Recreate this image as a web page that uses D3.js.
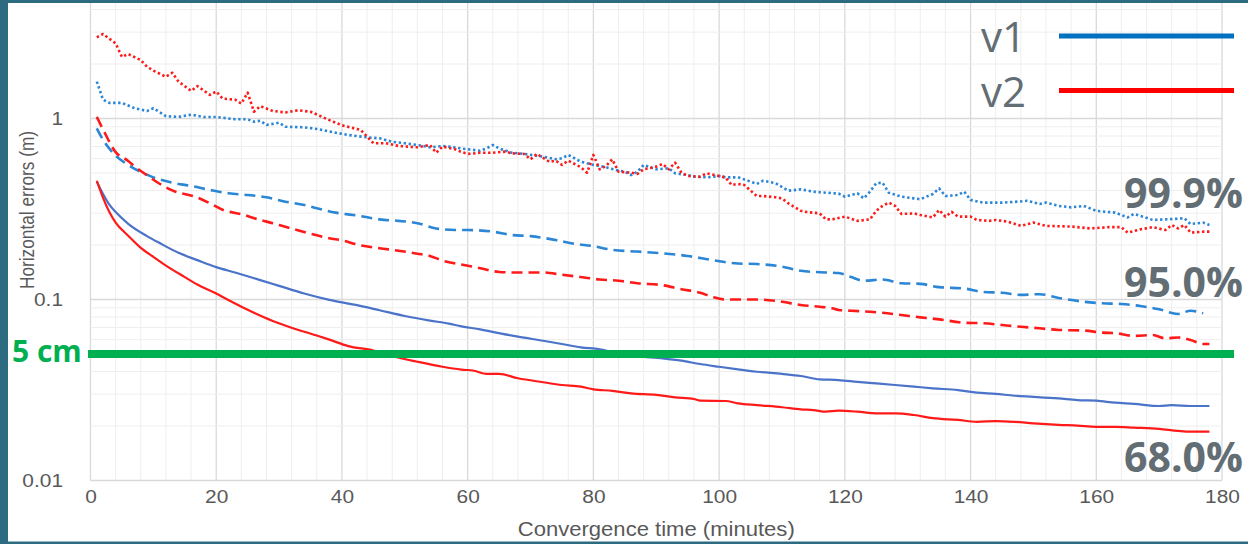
<!DOCTYPE html>
<html><head><meta charset="utf-8">
<script src="https://cdn.jsdelivr.net/npm/d3@7"></script>
<style>html,body{margin:0;padding:0;background:#2d6b80;}svg{display:block;}</style>
</head><body><svg id="c" width="1248" height="544"></svg>
<script>
// ---------- data (minutes, horizontal error in metres) ----------
const xTicks = [0,20,40,60,80,100,120,140,160,180];
const yTicks = [0.01,0.1,1];
const yTickLabels = ["0.01","0.1","1"];
const thresholdValue = 0.05; // 5 cm

// v1 99.9 % (dotted blue)
const v1_999_min = [1,2,3,5,7,9,10,12,14,16,18,20,23,25,26,27,28,30,31,34,36,39,41,44,46,48,50,53,54,56,57,59,60,62,63,64,65,67,69,72,74,75,76,77,78,80,81,82,84,85,86,87,88,89,90,92,93,95,96,98,100,101,103,104,106,107,109,111,113,115,117,119,120,122,123,124,125,126,127,129,131,132,134,135,136,138,139,140,142,145,147,149,151,152,154,156,158,160,163,165,166,169,171,174,175,177,178];
const v1_999_val = [1.60,1.27,1.22,1.22,1.14,1.10,1.14,1.03,1.02,1.05,1.02,1.02,0.99,0.99,0.96,0.972,0.921,0.948,0.901,0.894,0.875,0.835,0.811,0.787,0.777,0.744,0.730,0.705,0.693,0.705,0.699,0.683,0.676,0.664,0.684,0.714,0.684,0.647,0.637,0.615,0.595,0.603,0.629,0.603,0.577,0.554,0.546,0.538,0.515,0.508,0.487,0.508,0.554,0.538,0.524,0.531,0.498,0.487,0.477,0.473,0.481,0.473,0.473,0.461,0.435,0.453,0.439,0.399,0.406,0.394,0.389,0.385,0.370,0.386,0.362,0.394,0.439,0.442,0.389,0.370,0.362,0.358,0.383,0.411,0.373,0.378,0.394,0.355,0.343,0.343,0.346,0.351,0.337,0.343,0.329,0.323,0.329,0.309,0.302,0.284,0.297,0.275,0.277,0.281,0.261,0.266,0.258];

// v2 99.9 % (dotted red)
const v2_999_min = [1,2,4,5,6,8,9,10,12,13,14,16,17,19,20,21,23,24,25,26,27,29,31,33,35,38,40,43,45,47,49,52,54,55,56,58,59,60,62,64,66,67,69,70,71,73,74,75,76,78,79,80,81,82,83,84,86,87,88,90,91,92,93,94,95,97,98,100,101,102,103,104,106,107,109,110,111,113,114,116,117,118,120,122,124,125,126,127,128,129,131,132,134,135,136,137,138,140,141,143,144,146,148,150,152,156,159,162,164,165,167,169,171,172,173,174,175,177,178];
const v2_999_val = [2.81,2.93,2.60,2.19,2.27,2.10,1.93,1.84,1.70,1.79,1.60,1.42,1.51,1.35,1.41,1.29,1.27,1.21,1.39,1.09,1.17,1.10,1.08,1.11,1.09,0.98,0.917,0.864,0.730,0.730,0.705,0.693,0.714,0.647,0.699,0.676,0.653,0.637,0.647,0.647,0.656,0.642,0.637,0.595,0.637,0.577,0.585,0.554,0.585,0.538,0.502,0.629,0.524,0.546,0.595,0.508,0.502,0.494,0.524,0.542,0.561,0.524,0.570,0.502,0.481,0.477,0.498,0.481,0.473,0.429,0.435,0.429,0.373,0.373,0.367,0.362,0.340,0.309,0.304,0.299,0.277,0.277,0.287,0.272,0.277,0.309,0.329,0.343,0.329,0.297,0.299,0.293,0.284,0.312,0.287,0.305,0.287,0.287,0.275,0.272,0.275,0.269,0.255,0.266,0.255,0.253,0.247,0.251,0.251,0.234,0.244,0.251,0.242,0.258,0.247,0.258,0.234,0.237,0.237];

// v1 95 % (dashed blue)
const v1_95_min = [1,2,4,6,8,10,13,16,19,22,25,28,31,34,36,39,43,46,49,52,55,58,60,64,67,70,74,77,80,83,87,91,95,99,103,106,110,113,117,119,121,123,126,129,132,135,139,142,145,148,151,154,158,161,164,167,170,173,175,177];
const v1_95_val = [0.883,0.763,0.624,0.554,0.507,0.473,0.442,0.424,0.403,0.386,0.378,0.367,0.347,0.333,0.319,0.302,0.289,0.277,0.272,0.264,0.247,0.242,0.242,0.237,0.227,0.224,0.213,0.203,0.197,0.188,0.184,0.180,0.174,0.165,0.158,0.157,0.152,0.144,0.141,0.140,0.133,0.127,0.129,0.123,0.122,0.117,0.115,0.110,0.109,0.106,0.107,0.102,0.0972,0.0953,0.0944,0.0921,0.0883,0.0832,0.0867,0.0839];

// v2 95 % (dashed red)
const v2_95_min = [1,2,4,6,7,9,11,13,17,19,21,24,27,29,31,35,38,40,43,46,49,52,54,56,59,62,65,68,72,75,78,81,84,87,91,94,97,99,101,103,106,110,113,116,118,119,121,124,126,129,132,135,139,142,145,148,151,154,158,161,163,166,169,171,173,175,177,178];
const v2_95_val = [1.02,0.869,0.652,0.583,0.545,0.485,0.436,0.401,0.366,0.340,0.313,0.296,0.275,0.264,0.252,0.231,0.218,0.212,0.199,0.192,0.186,0.179,0.174,0.164,0.156,0.149,0.142,0.141,0.141,0.137,0.133,0.129,0.127,0.123,0.120,0.114,0.109,0.103,0.100,0.100,0.100,0.0972,0.0932,0.0912,0.0894,0.0875,0.0867,0.0856,0.0845,0.0821,0.0797,0.0777,0.0744,0.0739,0.0723,0.0707,0.0693,0.0679,0.0674,0.0656,0.0652,0.0629,0.0636,0.0610,0.0617,0.0597,0.0568,0.0568];

// v1 68 % (solid blue)
const v1_68_min = [1,2,3,4,6,9,11,14,17,20,23,27,30,34,38,42,46,50,54,57,59,62,65,68,72,75,78,81,84,87,91,94,97,100,103,106,110,113,116,119,122,125,128,131,134,138,141,144,147,150,154,157,160,163,166,170,172,175,178];
const v1_68_val = [0.448,0.383,0.334,0.304,0.262,0.224,0.205,0.181,0.165,0.151,0.141,0.128,0.119,0.108,0.0996,0.0936,0.0872,0.0811,0.0765,0.0736,0.0711,0.0684,0.0652,0.0623,0.0592,0.0568,0.0544,0.0531,0.0504,0.0487,0.0473,0.0459,0.0440,0.0425,0.0411,0.0399,0.0388,0.0378,0.0362,0.0359,0.0351,0.0344,0.0337,0.0330,0.0323,0.0316,0.0306,0.0301,0.0294,0.0290,0.0284,0.0278,0.0276,0.0269,0.0265,0.0258,0.0261,0.0258,0.0258];

// v2 68 % (solid red)
const v2_68_min = [1,2,3,4,6,8,10,12,15,17,20,22,26,29,32,36,38,41,45,48,52,56,59,61,63,65,68,72,75,78,80,83,86,90,93,96,97,101,103,106,110,113,115,117,119,122,125,128,131,134,138,141,144,147,150,154,157,160,163,166,170,173,175,178];
const v2_68_val = [0.453,0.364,0.304,0.266,0.225,0.193,0.172,0.154,0.133,0.121,0.108,0.0990,0.0844,0.0760,0.0698,0.0632,0.0600,0.0553,0.0523,0.0487,0.0453,0.0425,0.0410,0.0404,0.0388,0.0388,0.0367,0.0349,0.0337,0.0330,0.0319,0.0313,0.0303,0.0297,0.0288,0.0282,0.0276,0.0275,0.0267,0.0261,0.0254,0.0247,0.0245,0.0240,0.0243,0.0240,0.0235,0.0235,0.0230,0.0221,0.0216,0.0211,0.0213,0.0211,0.0207,0.0203,0.0201,0.0198,0.0198,0.0196,0.0193,0.0188,0.0186,0.0186];

const legendNames = ["v1","v2"];
const levelLabels = ["99.9%","95.0%","68.0%"];

// ---------- drawing ----------
const W = 1248, H = 544;
const svg = d3.select("#c");
svg.append("rect").attr("width", W).attr("height", H).attr("fill", "#2d6b80");
svg.append("rect").attr("x", 8).attr("y", 3).attr("width", W - 8).attr("height", 538.5).attr("fill", "#ffffff");

const defs = svg.append("defs");
defs.append("clipPath").attr("id", "panel").append("rect")
  .attr("x", 8).attr("y", 3).attr("width", W - 8).attr("height", 538.5);

const x = d3.scaleLinear().domain([0, 180]).range([90.5, 1222]);
const y = d3.scaleLog().domain([0.01, 10]).range([480.5, -62.5]);

const g = svg.append("g").attr("clip-path", "url(#panel)");

// grid: vertical minor every 4 minutes, major every 20
const vg = d3.range(0, 181, 4);
g.append("g").selectAll("line").data(vg).join("line")
  .attr("x1", d => x(d)).attr("x2", d => x(d))
  .attr("y1", y(0.01)).attr("y2", y(10))
  .attr("stroke", d => d % 20 === 0 ? "#d9d9d9" : "#eeeeee")
  .attr("stroke-width", d => d % 20 === 0 ? 1.3 : 1);

// horizontal log grid
const hg = [];
[0.01, 0.1, 1].forEach(dec => { for (let k = 1; k <= 9; k++) hg.push({v: +(dec * k).toPrecision(3), major: k === 1}); });
hg.push({v: 10, major: true});
g.append("g").selectAll("line").data(hg).join("line")
  .attr("x1", x(0)).attr("x2", x(180))
  .attr("y1", d => y(d.v)).attr("y2", d => y(d.v))
  .attr("stroke", d => d.major ? "#d9d9d9" : "#eeeeee")
  .attr("stroke-width", d => d.major ? 1.3 : 1);

// axes
const TS = 1.13; // horizontal stretch of the original picture's text
const xAxis = d3.axisBottom(x).tickValues(xTicks).tickSize(0).tickPadding(0).tickFormat(d3.format("d"));
const xa = svg.append("g").attr("transform", `translate(0,${y(0.01)})`).call(xAxis);
xa.select(".domain").remove();
xa.selectAll("text").attr("y", 22.5).attr("dy", 0)
  .attr("transform", `scale(${TS},1)`)
  .attr("font-family", "Liberation Sans, Arial, sans-serif").attr("font-size", 18.5).attr("fill", "#595959");

const yAxis = d3.axisLeft(y).tickValues(yTicks).tickSize(0).tickPadding(0).tickFormat((d, i) => yTickLabels[i]);
const ya = svg.append("g").attr("transform", `translate(${x(0)},0)`).call(yAxis);
ya.select(".domain").remove();
ya.selectAll("text").attr("x", -27.5 / TS).attr("dy", "0.35em")
  .attr("transform", `scale(${TS},1)`)
  .attr("font-family", "Liberation Sans, Arial, sans-serif").attr("font-size", 18.5).attr("fill", "#595959");

// axis titles
svg.append("text").attr("x", 0).attr("y", 0)
  .attr("transform", `translate(${(x(0) + x(180)) / 2},536)`)
  .attr("text-anchor", "middle").attr("textLength", 277).attr("lengthAdjust", "spacingAndGlyphs")
  .attr("font-family", "Liberation Sans, Arial, sans-serif").attr("font-size", 20.5).attr("fill", "#595959")
  .text("Convergence time (minutes)");
svg.append("text")
  .attr("transform", `translate(34,210) scale(1.17,1) rotate(-90)`)
  .attr("text-anchor", "middle").attr("textLength", 158).attr("lengthAdjust", "spacingAndGlyphs")
  .attr("font-family", "Liberation Sans, Arial, sans-serif").attr("font-size", 16.5).attr("fill", "#595959")
  .text("Horizontal errors (m)");

// series
const blueLight = "#2b86d6", blueSolid = "#4a73c9", red = "#ff1a1a";
const series = [
  {m: v1_999_min, v: v1_999_val, c: blueLight, dash: "2.4,2.6", w: 2.6, curve: d3.curveLinear},
  {m: v2_999_min, v: v2_999_val, c: red,       dash: "2.4,2.6", w: 2.6, curve: d3.curveLinear},
  {m: v1_95_min,  v: v1_95_val,  c: blueLight, dash: "11,6",    w: 2.6, curve: d3.curveMonotoneX},
  {m: v2_95_min,  v: v2_95_val,  c: red,       dash: "11,6",    w: 2.6, curve: d3.curveMonotoneX},
  {m: v1_68_min,  v: v1_68_val,  c: blueSolid, dash: null,      w: 2.2, curve: d3.curveMonotoneX},
  {m: v2_68_min,  v: v2_68_val,  c: red,       dash: null,      w: 2.2, curve: d3.curveMonotoneX}
];
series.forEach(s => {
  const pts = s.m.map((mm, i) => [mm, s.v[i]]);
  g.append("path").datum(pts)
    .attr("d", d3.line().x(d => x(d[0])).y(d => y(d[1])).curve(s.curve))
    .attr("fill", "none").attr("stroke", s.c).attr("stroke-width", s.w)
    .attr("stroke-dasharray", s.dash).attr("stroke-linejoin", "round");
});

// 5 cm threshold line
svg.append("line").attr("x1", 88).attr("x2", 1234)
  .attr("y1", y(thresholdValue)).attr("y2", y(thresholdValue))
  .attr("stroke", "#00b050").attr("stroke-width", 8);
svg.append("text").attr("x", 12).attr("y", 362)
  .attr("font-family", "Open Sans, sans-serif").attr("font-weight", "bold").attr("font-size", 30)
  .attr("fill", "#00b050").text("5 cm");

// legend
const legColors = ["#0070c0", "#ff0000"];
const legY = [36, 90.5];
const legBase = [52, 106.5];
legendNames.forEach((n, i) => {
  svg.append("text").attr("x", 981).attr("y", legBase[i])
    .attr("font-family", "Open Sans, sans-serif").attr("font-size", 42).attr("fill", "#636d74").text(n);
  svg.append("line").attr("x1", 1059).attr("x2", 1234).attr("y1", legY[i]).attr("y2", legY[i])
    .attr("stroke", legColors[i]).attr("stroke-width", 5);
});

// level labels
const lvlBase = [208, 297, 472];
levelLabels.forEach((t, i) => {
  svg.append("text").attr("x", 1243).attr("y", lvlBase[i]).attr("text-anchor", "end")
    .attr("font-family", "Open Sans, sans-serif").attr("font-weight", "bold").attr("font-size", 41)
    .attr("fill", "#636d74").text(t);
});
</script></body></html>
